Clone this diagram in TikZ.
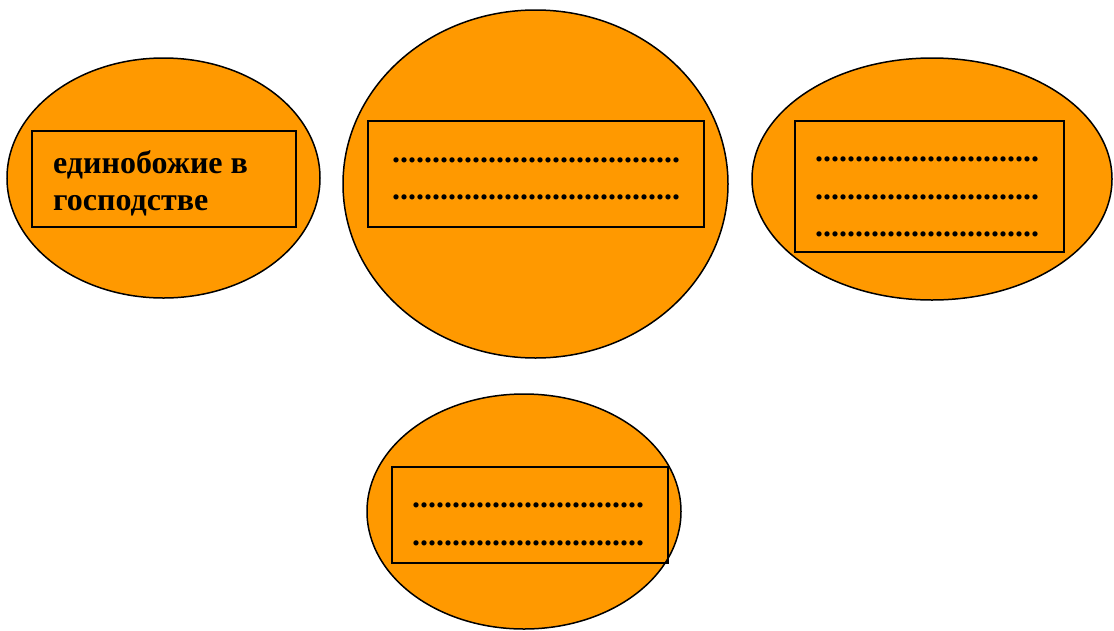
\documentclass[tikz,border=0pt]{standalone}
\usepackage{fontspec}
\setmainfont{Liberation Serif}
\usetikzlibrary{shapes.geometric}
\definecolor{OvalOrange}{HTML}{FF9900}
\newcommand{\dotline}[1]{\foreach \n in {1,...,#1}{.}}

\begin{document}
\begin{tikzpicture}[x=1pt,y=-1pt,
  oval/.style={ellipse,draw=black,line width=1.5pt,fill=OvalOrange,inner sep=0pt},
  frame/.style={draw=black,line width=2pt,inner sep=0pt},
  label/.style={font=\fontsize{32}{37.5}\selectfont\bfseries,inner sep=0pt,align=left}]
  \useasboundingbox[fill=white] (0,0) rectangle (1114,630);
  % four ovals
  \node[oval,minimum width=313pt,minimum height=240pt] (left) at (163.5,178) {};
  \node[oval,minimum width=385pt,minimum height=348pt] (mid) at (535.5,184) {};
  \node[oval,minimum width=360pt,minimum height=242pt] (right) at (932,179) {};
  \node[oval,minimum width=314pt,minimum height=235pt] (low) at (524,511.5) {};
  % frames inside the ovals
  \node[frame,minimum width=264pt,minimum height=96pt] (leftbox) at (164,179) {};
  \node[frame,minimum width=336pt,minimum height=106pt] (midbox) at (536,174) {};
  \node[frame,minimum width=269pt,minimum height=131pt] (rightbox) at (929.5,186.5) {};
  \node[frame,minimum width=276pt,minimum height=96pt] (lowbox) at (530,515) {};
  % texts
  \node[label,anchor=west] (lefttext) at (53,183.5) {единобожие в\\господстве};
  \node[label,align=center] (midtext) at (536,179) {\dotline{36}\\\dotline{36}};
  \node[label,align=center] (righttext) at (927,197) {\dotline{28}\\\dotline{28}\\\dotline{28}};
  \node[label,align=center] (lowtext) at (528,524.5) {\dotline{29}\\\dotline{29}};
\end{tikzpicture}
\end{document}
